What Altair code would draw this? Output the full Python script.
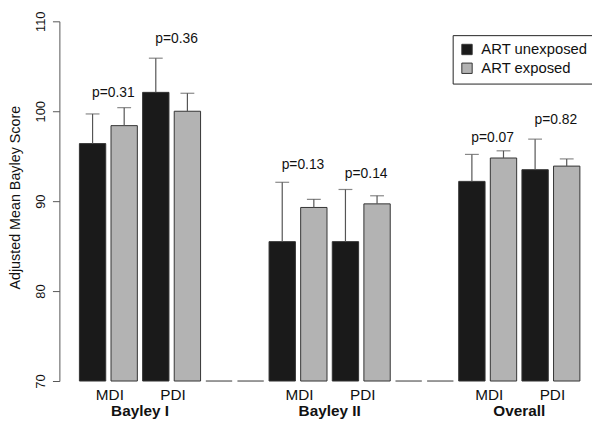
import altair as alt
import pandas as pd

groups = ["Bayley I", "Bayley II", "Overall"]
measures = ["MDI", "PDI"]
exposure = ["ART unexposed", "ART exposed"]
unexposed_mean = [96.4, 102.1, 85.5, 85.5, 92.2, 93.5]
unexposed_upper = [99.7, 105.9, 92.1, 91.3, 95.2, 96.9]
exposed_mean = [98.4, 100.0, 89.3, 89.7, 94.8, 93.9]
exposed_upper = [100.4, 102.0, 90.2, 90.6, 95.6, 94.7]
p_labels = ["p=0.31", "p=0.36", "p=0.13", "p=0.14", "p=0.07", "p=0.82"]
p_label_y = [102, 108, 94, 93, 97, 99]
BASE = 70

SPACE, W = 0.2, 1.0


def left(k):
    return SPACE + (W + SPACE) * k


bar_rows, pair_rows, group_rows, empty_rows = [], [], [], []
for gi, g in enumerate(groups):
    for mi, m in enumerate(measures):
        i = gi * 2 + mi
        vals = [(unexposed_mean[i], unexposed_upper[i]), (exposed_mean[i], exposed_upper[i])]
        for ei, e in enumerate(exposure):
            k = gi * 6 + mi * 2 + ei
            bar_rows.append(dict(group=g, measure=m, exposure=e, mean=vals[ei][0],
                                 upper=vals[ei][1], x0=left(k), x1=left(k) + W,
                                 xc=left(k) + W / 2, base=BASE))
        k0 = gi * 6 + mi * 2
        pair_rows.append(dict(measure=m, p=p_labels[i], py=p_label_y[i],
                              xc=(left(k0) + left(k0 + 1) + W) / 2, base=BASE))
    g0 = gi * 6
    group_rows.append(dict(group=g, xc=(left(g0) + left(g0 + 3) + W) / 2, base=BASE))
    if gi < len(groups) - 1:
        for k in (g0 + 4, g0 + 5):
            empty_rows.append(dict(x0=left(k), x1=left(k) + W, base=BASE))

bars_df = pd.DataFrame(bar_rows)
pairs_df = pd.DataFrame(pair_rows)
groups_df = pd.DataFrame(group_rows)
empty_df = pd.DataFrame(empty_rows)

FONT = "Liberation Sans"
xs = alt.Scale(domain=[-0.56, 19.36], nice=False, zero=False)
ys = alt.Scale(domain=[70, 110], nice=False, zero=False)
yaxis = alt.Axis(values=[70, 80, 90, 100, 110], labelAngle=-90, labelAlign="center",
                 labelBaseline="bottom", labelFont=FONT, labelFontSize=13,
                 labelColor="#111111", labelPadding=5, tickSize=7, tickColor="#555555",
                 domainColor="#555555", grid=False, title="Adjusted Mean Bayley Score",
                 titleFont=FONT, titleFontSize=14.5, titleFontWeight="normal",
                 titleColor="#111111", titleAngle=-90, titleAlign="center",
                 titleBaseline="middle", titleX=-44, titleY=178)


def X(f):
    return alt.X(f"{f}:Q", scale=xs, axis=None)


def Y(f):
    return alt.Y(f"{f}:Q", scale=ys, axis=yaxis)


bars = alt.Chart(bars_df).mark_rect(stroke="#333333", strokeWidth=1).encode(
    x=X("x0"), x2="x1", y=Y("mean"), y2="base",
    color=alt.Color("exposure:N",
                    scale=alt.Scale(domain=exposure, range=["#1a1a1a", "#b3b3b3"]),
                    legend=alt.Legend(title=None, orient="none", legendX=398, legendY=14)),
)

err = alt.Chart(bars_df).mark_rule(color="#555555", strokeWidth=1.2).encode(
    x=X("xc"), y=Y("mean"), y2="upper")

caps = alt.Chart(bars_df).mark_tick(orient="horizontal", size=14, thickness=1.2,
                                   color="#555555").encode(x=X("xc"), y=Y("upper"))

empty = alt.Chart(empty_df).mark_rule(color="#333333", strokeWidth=1).encode(
    x=X("x0"), x2="x1", y=Y("base"))

ptext = alt.Chart(pairs_df).mark_text(font=FONT, fontSize=14, dx=5, baseline="middle",
                                      color="#111111").encode(
    x=X("xc"), y=Y("py"), text="p:N")

mlab = alt.Chart(pairs_df).mark_text(font=FONT, fontSize=15.5, dx=1.5, dy=14.5,
                                     baseline="middle", color="#111111").encode(
    x=X("xc"), y=Y("base"), text="measure:N")

glab = alt.Chart(groups_df).mark_text(font=FONT, fontSize=15.5, fontWeight="bold", dy=30.5,
                                      baseline="middle", color="#111111").encode(
    x=X("xc"), y=Y("base"), text="group:N")

chart = alt.layer(bars, err, caps, empty, ptext, mlab, glab).properties(
    width=531, height=364,
    autosize=alt.AutoSizeParams(type="none"),
    padding={"left": 52, "top": 11, "right": 8, "bottom": 40},
).configure_view(stroke=None).configure_legend(
    strokeColor="#222222", strokeWidth=1, fillColor="white", padding=7,
    rowPadding=3, symbolType="square", symbolSize=110,
    symbolStrokeColor="#333333", symbolStrokeWidth=1,
    labelFont=FONT, labelFontSize=15, labelColor="#111111", labelOffset=7,
    labelLimit=300,
)

chart.save("out.html", embed_options={"renderer": "svg", "actions": False})
